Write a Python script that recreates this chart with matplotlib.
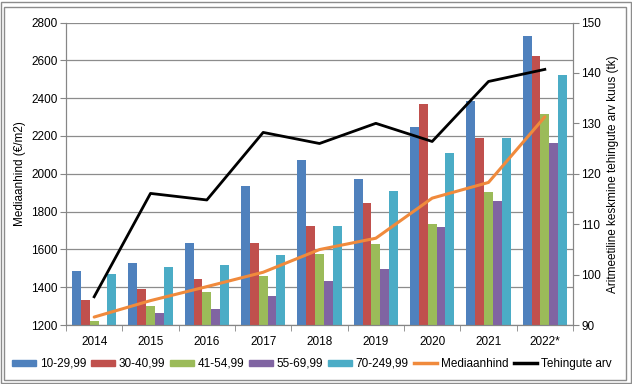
import numpy as np
import matplotlib
matplotlib.use("Agg")
import matplotlib.pyplot as plt
from matplotlib.patches import Rectangle
from matplotlib.lines import Line2D

plt.rcParams['font.family'] = ['Liberation Sans Narrow', 'Liberation Sans', 'DejaVu Sans']

years = ["2014", "2015", "2016", "2017", "2018", "2019", "2020", "2021", "2022*"]
series_names = ["10-29,99", "30-40,99", "41-54,99", "55-69,99", "70-249,99"]
s_10_29 = [1487, 1530, 1636, 1937, 2073, 1972, 2249, 2387, 2730]
s_30_40 = [1332, 1389, 1445, 1636, 1725, 1845, 2368, 2187, 2622]
s_41_54 = [1221, 1301, 1375, 1460, 1576, 1626, 1735, 1905, 2318]
s_55_69 = [np.nan, 1262, 1285, 1352, 1432, 1495, 1718, 1854, 2163]
s_70_249 = [1470, 1505, 1518, 1571, 1721, 1910, 2110, 2191, 2520]
mediaanhind = [1242, 1329, 1403, 1479, 1599, 1659, 1871, 1954, 2301]
tehingute_arv = [95.6, 116.1, 114.8, 128.2, 126.0, 130.0, 126.4, 138.3, 140.7]

colors = ["#4F81BD", "#C0504D", "#9BBB59", "#8064A2", "#4BACC6"]
line_orange = "#F08A3C"

fig = plt.figure(figsize=(6.32, 3.84), dpi=100)
ax = fig.add_axes([66/632, 1-325/384, (573-66)/632, (325-22.5)/384])
ax2 = ax.twinx()

x = np.arange(len(years))
bw = 0.157
all_series = [s_10_29, s_30_40, s_41_54, s_55_69, s_70_249]
for i, (vals, c) in enumerate(zip(all_series, colors)):
    ax.bar(x + (i - 2) * bw, vals, width=bw, color=c, zorder=2, label=series_names[i])

ax.plot(x, mediaanhind, color=line_orange, lw=2.2, zorder=4, solid_capstyle='round')
ax2.plot(x, tehingute_arv, color="black", lw=2.0, zorder=5)

ax.set_ylim(1200, 2800)
ax.set_yticks(np.arange(1200, 2801, 200))
ax.set_xlim(-0.5, len(years) - 0.5)
ax2.set_ylim(90, 150)
ax2.set_yticks(np.arange(90, 151, 10))

ax.grid(axis='y', color='#8C8C8C', lw=0.9, zorder=0)
ax.set_axisbelow(True)
ax.set_xticks(x)
ax.set_xticklabels(years)
ax.set_xticks(np.arange(-0.5, len(years), 1), minor=True)
ax.tick_params(axis='x', which='major', length=0, pad=8, labelsize=8.5)
ax.tick_params(axis='x', which='minor', length=4, color='#868686', direction='out')
ax.tick_params(axis='y', length=4, color='#868686', labelsize=8.5, pad=2)
ax2.tick_params(axis='y', length=4, color='#868686', labelsize=8.5, pad=2)

for a in (ax, ax2):
    a.spines['top'].set_visible(False)
    a.spines['left'].set_color('#868686')
    a.spines['right'].set_color('#868686')
    a.spines['bottom'].set_color('#868686')

ax.set_ylabel("Mediaanhind (€/m2)", fontsize=8.5, labelpad=4)
ax2.set_ylabel("Aritmeetiline keskmine tehingute arv kuus (tk)", fontsize=8.5, labelpad=4)

handles = [Rectangle((0, 0), 1, 1, color=c) for c in colors]
handles += [Line2D([0], [0], color=line_orange, lw=2.5), Line2D([0], [0], color='black', lw=2.5)]
labels = series_names + ["Mediaanhind", "Tehingute arv"]
leg = fig.legend(handles, labels, loc='center', bbox_to_anchor=(312/632, 1-364/384), ncol=7,
                 frameon=False, fontsize=8.5, handlelength=2.0, handleheight=0.45,
                 handletextpad=0.3, columnspacing=0.45, borderaxespad=0, borderpad=0)

fig.patches.append(Rectangle((1/632, 1/384), 630/632, 381/384, transform=fig.transFigure,
                             fill=False, edgecolor='#8C8C8C', lw=1.0))
fig.patches.append(Rectangle((4/632, 4/384), 622/632, 373/384, transform=fig.transFigure,
                             fill=False, edgecolor='#8C8C8C', lw=1.0))

fig.savefig("out.png", dpi=100)
